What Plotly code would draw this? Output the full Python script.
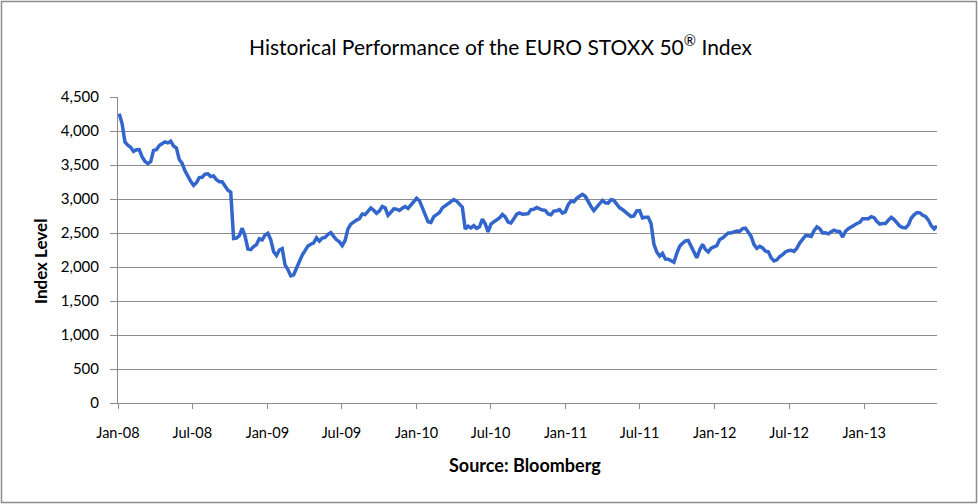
import pandas as pd
import plotly.graph_objects as go

# Weekly closes (Fridays)
start_date = "2008-01-04"
index_level = [
    4255, 4110, 3840, 3790, 3760, 3700, 3725, 3727, 3620, 3555, 3520, 3550, 3715, 3725, 3785, 3815,
    3840, 3825, 3850, 3780, 3750, 3580, 3525, 3415, 3325, 3260, 3200, 3240, 3315, 3320, 3365, 3370,
    3330, 3340, 3285, 3255, 3255, 3180, 3130, 3100, 2420, 2425, 2460, 2570, 2455, 2265, 2255, 2300,
    2330, 2415, 2400, 2470, 2495, 2400, 2225, 2170, 2250, 2270, 2030, 1960, 1870, 1885, 1990, 2075,
    2175, 2240, 2310, 2335, 2355, 2430, 2380, 2425, 2435, 2480, 2505, 2450, 2400, 2370, 2315, 2390,
    2560, 2630, 2665, 2690, 2710, 2780, 2770, 2825, 2870, 2835, 2790, 2825, 2890, 2870, 2760, 2805,
    2855, 2850, 2830, 2865, 2890, 2862, 2910, 2968, 3010, 2975, 2860, 2760, 2665, 2655, 2740, 2770,
    2800, 2870, 2900, 2938, 2963, 2993, 2970, 2930, 2880, 2560, 2600, 2575, 2608, 2568, 2590, 2705,
    2635, 2515, 2630, 2663, 2695, 2722, 2772, 2738, 2660, 2648, 2708, 2776, 2795, 2775, 2780, 2784,
    2845, 2850, 2874, 2851, 2838, 2833, 2780, 2767, 2823, 2828, 2845, 2793, 2810, 2915, 2970, 2960,
    3010, 3040, 3068, 3040, 2955, 2890, 2828, 2870, 2930, 2980, 2945, 2938, 2990, 2980, 2920, 2870,
    2845, 2812, 2765, 2742, 2751, 2825, 2830, 2720, 2730, 2730, 2640, 2335, 2220, 2160, 2200,
    2117, 2115, 2090, 2070, 2200, 2305, 2350, 2385, 2390, 2297, 2230, 2135, 2250, 2335, 2258, 2222,
    2278, 2295, 2315, 2405, 2425, 2464, 2500, 2500, 2518, 2530, 2526, 2564, 2572, 2515, 2450, 2330,
    2275, 2305, 2280, 2232, 2225, 2135, 2090, 2105, 2155, 2182, 2220, 2240, 2245, 2230, 2277, 2353,
    2415, 2460, 2460, 2450, 2535, 2590, 2562, 2500, 2502, 2488, 2518, 2542, 2525, 2520, 2440, 2525,
    2564, 2590, 2626, 2640, 2656, 2710, 2710, 2710, 2740, 2725, 2667, 2630, 2640, 2640, 2690, 2730,
    2697, 2648, 2602, 2580, 2575, 2620, 2720, 2768, 2802, 2797, 2760, 2744, 2690, 2607, 2560, 2605,
]
dates = pd.date_range(start_date, periods=len(index_level), freq="W-FRI")

title_text = "Historical Performance of the EURO STOXX 50<sup>®</sup> Index"
y_title = "Index Level"
x_title = "Source: Bloomberg"

FONT = "Lato"
GRID = "#8c8c8c"

fig = go.Figure()
fig.add_trace(go.Scatter(
    x=dates, y=index_level, mode="lines",
    line=dict(color="#3366cc", width=3.5), hoverinfo="x+y", showlegend=False,
))

L, R, T, B = 118, 41, 97, 101
W, H = 978, 504
pw, ph = W - L - R, H - T - B

def px(xp):
    return (xp - L) / pw

def py(yp):
    return (H - B - yp) / ph

fig.update_layout(
    width=W, height=H,
    margin=dict(l=L, r=R, t=T, b=B, pad=0),
    paper_bgcolor="white", plot_bgcolor="white",
    font=dict(family=FONT, size=14, color="black"),
    xaxis=dict(
        type="date",
        range=["2008-01-01", dates[-1]],
        tick0="2008-01-01", dtick="M6", tickformat="%b-%y",
        ticks="outside", ticklen=5, tickcolor=GRID, tickwidth=1,
        ticklabelstandoff=12,
        showline=True, linecolor=GRID, linewidth=1,
        showgrid=False, zeroline=False,
        tickfont=dict(family=FONT, size=14.5, color="black"),
    ),
    yaxis=dict(
        range=[0, 4500], dtick=500, tickformat=",",
        ticks="outside", ticklen=7, tickcolor=GRID, tickwidth=1,
        ticklabelstandoff=8,
        showline=True, linecolor=GRID, linewidth=1,
        showgrid=True, gridcolor=GRID, gridwidth=1, zeroline=False,
        tickfont=dict(family=FONT, size=15, color="black"),
    ),
    annotations=[
        dict(text=title_text, xref="paper", yref="paper", x=px(501), y=py(45),
             showarrow=False, xanchor="center", yanchor="middle",
             font=dict(family=FONT, size=21, color="black")),
        dict(text="<b>" + y_title + "</b>", xref="paper", yref="paper", x=px(40), y=py(262),
             showarrow=False, xanchor="center", yanchor="middle", textangle=-90,
             font=dict(family=FONT, size=17, color="black")),
        dict(text="<b>" + x_title + "</b>", xref="paper", yref="paper", x=px(525), y=py(465),
             showarrow=False, xanchor="center", yanchor="middle",
             font=dict(family=FONT, size=18, color="black")),
    ],
    shapes=[
        dict(type="rect", xref="paper", yref="paper",
             x0=px(1.5), x1=px(976.5), y0=py(502.5), y1=py(1.5),
             line=dict(color="#8c8c8c", width=1.5), fillcolor="rgba(0,0,0,0)", layer="below"),
    ],
)

fig.write_html("out.html", config={"displayModeBar": False})

# remove the browser's default page margin so the figure fills the window
with open("out.html", "r", encoding="utf-8") as f:
    html = f.read()
html = html.replace("<body>", '<body style="margin:0;padding:0;overflow:hidden;">', 1)
with open("out.html", "w", encoding="utf-8") as f:
    f.write(html)
